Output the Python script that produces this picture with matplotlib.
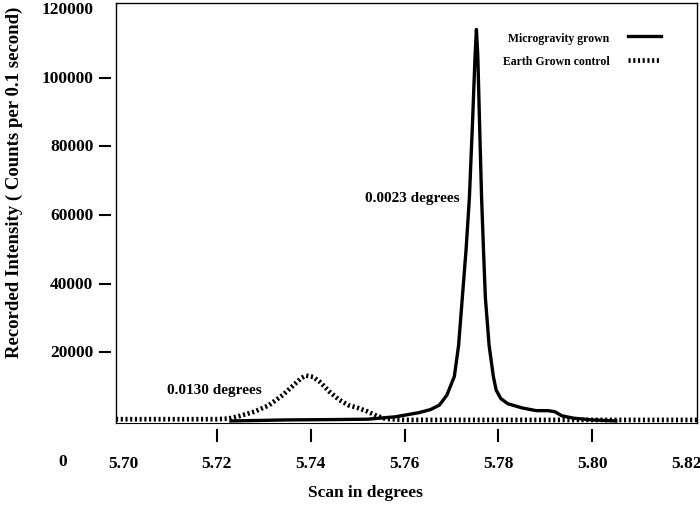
import matplotlib
matplotlib.use('Agg')
import matplotlib.pyplot as plt

# microgravity grown crystal (solid)
micro_x = [5.7230, 5.7350, 5.7450, 5.7520, 5.7580, 5.7630, 5.7655, 5.7674, 5.7690,
           5.7706, 5.7715, 5.7723, 5.7731, 5.7738, 5.7745, 5.7750, 5.7753, 5.7756,
           5.7760, 5.7764, 5.7768, 5.7772, 5.7780, 5.7789, 5.7795, 5.7805, 5.7820,
           5.7850, 5.7880, 5.7905, 5.7920, 5.7935, 5.7960, 5.8000, 5.8050]
micro_y = [0, 300, 400, 500, 1200, 2400, 3300, 4600, 7500,
           13000, 22000, 36000, 50000, 65000, 88000, 106000, 114000, 106000,
           85000, 65000, 50000, 36000, 22000, 13000, 9000, 6500, 5000,
           3800, 3000, 3000, 2700, 1500, 800, 300, 0]

# earth grown control (dotted)
earth_x = [5.6985, 5.705, 5.710, 5.715, 5.720, 5.7225, 5.725, 5.728, 5.731, 5.734,
           5.736, 5.738, 5.739, 5.7405, 5.742, 5.744, 5.746, 5.748, 5.750, 5.752,
           5.754, 5.756, 5.760, 5.770, 5.780, 5.790, 5.800, 5.810, 5.8223]
earth_y = [500, 500, 500, 500, 500, 700, 1500, 2700, 4500, 7500,
           10000, 12500, 13200, 12800, 11300, 8500, 6200, 4600, 3800, 2800,
           1500, 600, 300, 300, 300, 300, 300, 300, 300]

x_ticks = [5.70, 5.72, 5.74, 5.76, 5.78, 5.80, 5.82]
x_marks = [5.72, 5.74, 5.76, 5.78, 5.80]
y_ticks = [20000, 40000, 60000, 80000, 100000, 120000]
y_marks = [20000, 40000, 60000, 80000, 100000]

serif = ['Liberation Serif', 'DejaVu Serif']
plt.rcParams['font.family'] = serif
plt.rcParams['font.weight'] = 'bold'

fig = plt.figure(figsize=(7, 5.06), dpi=100)
ax = fig.add_axes([116 / 700, 1 - 424 / 506, 581 / 700, 420 / 506])

ax.plot(micro_x, micro_y, color='black', lw=2.4, solid_joinstyle='round',
        label='Microgravity grown', zorder=3)
ax.plot(earth_x, earth_y, color='black', lw=3.4, dashes=(0.45, 0.55),
        label='Earth Grown control', zorder=2)

ax.set_xlim(5.6985, 5.8223)
ax.set_ylim(-600, 121700)

for s in ax.spines.values():
    s.set_linewidth(1.0)
ax.spines['bottom'].set_linewidth(0.8)

ax.set_xticks([])
ax.set_yticks([])

# tick marks detached from the spines, as in the original
yt = ax.get_yaxis_transform()
for v in y_marks:
    ax.plot([-0.028, -0.011], [v, v], color='black', lw=1.5, transform=yt, clip_on=False)
for v in y_ticks:
    ax.text(-0.039, v, f'{v}', transform=yt, ha='right', va='center',
            fontsize=12.5, fontweight='bold')

xt = ax.get_xaxis_transform()
for v in x_marks:
    ax.plot([v, v], [-0.016, -0.044], color='black', lw=1.5, transform=xt, clip_on=False)
for v in x_ticks:
    ax.text(v, -0.095, f'{v:.2f}', transform=xt, ha='center', va='center',
            fontsize=12.5, fontweight='bold')
fig.text(63 / 700, 1 - 462 / 506, '0', ha='center', va='center',
         fontsize=12.5, fontweight='bold')

fig.text(365 / 700, 1 - 493 / 506, 'Scan in degrees', ha='center', va='center',
         fontsize=12.5, fontweight='bold')
fig.text(14 / 700, 1 - 182 / 506, 'Recorded Intensity ( Counts per 0.1 second)',
         rotation=90, ha='center', va='center', fontsize=13.5, fontweight='bold')

ax.text(5.7616, 65200, '0.0023 degrees', fontsize=11, fontweight='bold',
        ha='center', va='center')
ax.text(5.7194, 9300, '0.0130 degrees', fontsize=11, fontweight='bold',
        ha='center', va='center')

ax.legend(loc='upper right', bbox_to_anchor=(672 / 700, 1 - 22 / 506),
          bbox_transform=fig.transFigure, frameon=False, markerfirst=False,
          prop={'family': serif, 'weight': 'bold', 'size': 8.5},
          handlelength=2.8, labelspacing=1.0, handletextpad=1.6)

fig.savefig('out.png', dpi=100)
